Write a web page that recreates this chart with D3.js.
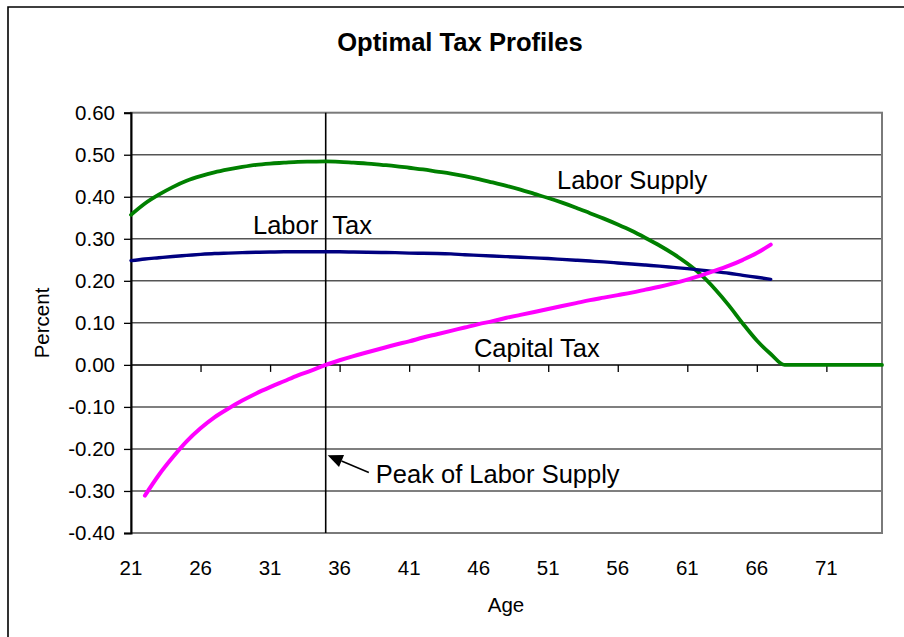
<!DOCTYPE html>
<html>
<head>
<meta charset="utf-8">
<script src="https://cdn.jsdelivr.net/npm/d3@7"></script>
<style>
  body { margin: 0; background: #fff; }
  svg { font-family: "Liberation Sans", Arial, sans-serif; }
</style>
</head>
<body>
<svg width="904" height="637"></svg>
<script>
// ages on the category axis
const xTicks = [21, 26, 31, 36, 41, 46, 51, 56, 61, 66, 71];
const yTicks = [0.6, 0.5, 0.4, 0.3, 0.2, 0.1, 0, -0.1, -0.2, -0.3, -0.4];

// labor supply, ages 21..75
const laborSupply = [
  0.357, 0.384, 0.405, 0.423, 0.438, 0.449, 0.458, 0.465, 0.471, 0.476,
  0.479, 0.481, 0.483, 0.4835, 0.484, 0.483, 0.481, 0.479, 0.476, 0.473,
  0.469, 0.465, 0.460, 0.455, 0.449, 0.442, 0.434, 0.426, 0.417, 0.407,
  0.397, 0.386, 0.374, 0.361, 0.348, 0.334, 0.319, 0.302, 0.284, 0.264,
  0.241, 0.214, 0.180, 0.141, 0.098, 0.058, 0.026, 0, 0, 0,
  0, 0, 0, 0, 0
];
// labor tax, ages 21..67
const laborTax = [
  0.248, 0.252, 0.255, 0.258, 0.2605, 0.263, 0.265, 0.266, 0.267, 0.268,
  0.2685, 0.269, 0.269, 0.269, 0.269, 0.269, 0.2685, 0.268, 0.2675, 0.267,
  0.266, 0.2655, 0.265, 0.264, 0.262, 0.2605, 0.259, 0.2575, 0.256, 0.2545,
  0.253, 0.251, 0.249, 0.247, 0.245, 0.2425, 0.240, 0.2375, 0.235, 0.232,
  0.229, 0.2255, 0.222, 0.218, 0.213, 0.2085, 0.2035
];
// capital tax, ages 22..67
const capitalTax = [
  -0.311, -0.262, -0.220, -0.182, -0.151, -0.125, -0.104, -0.085, -0.068,
  -0.053, -0.039, -0.025, -0.013, 0.000, 0.011, 0.021, 0.030, 0.039, 0.048,
  0.056, 0.065, 0.073, 0.081, 0.089, 0.097, 0.104, 0.112, 0.119, 0.126,
  0.133, 0.140, 0.147, 0.154, 0.160, 0.166, 0.172, 0.179, 0.186, 0.194,
  0.203, 0.213, 0.224, 0.236, 0.250, 0.266, 0.286
];
const peakAge = 35;

const svg = d3.select('svg');
const margin = { left: 131, right: 882, top: 112.7, bottom: 533 };

const x = d3.scaleLinear().domain([21, 75]).range([margin.left, margin.right]);
const y = d3.scaleLinear().domain([-0.4, 0.6]).range([margin.bottom, margin.top]);

// outer chart frame (only top/left visible)
svg.append('path')
  .attr('d', 'M8,660 L8,7 L920,7')
  .attr('fill', 'none')
  .attr('stroke', '#000')
  .attr('stroke-width', 1.6);

// title
svg.append('text')
  .attr('x', 460).attr('y', 51)
  .attr('text-anchor', 'middle')
  .attr('font-size', 25.6).attr('font-weight', 'bold')
  .text('Optimal Tax Profiles');

// gridlines
svg.append('g')
  .selectAll('line')
  .data(yTicks.filter(d => d !== 0 && d !== 0.6 && d !== -0.4))
  .enter()
  .append('line')
  .attr('x1', margin.left).attr('x2', margin.right)
  .attr('y1', d => y(d)).attr('y2', d => y(d))
  .attr('stroke', '#555')
  .attr('stroke-width', 1.5);

// plot border
svg.append('rect')
  .attr('x', margin.left).attr('y', margin.top)
  .attr('width', margin.right - margin.left)
  .attr('height', margin.bottom - margin.top)
  .attr('fill', 'none')
  .attr('stroke', '#7a7a7a')
  .attr('stroke-width', 2);

// y axis
const yAxis = svg.append('g')
  .attr('transform', `translate(${margin.left},0)`)
  .call(d3.axisLeft(y).tickValues(yTicks).tickSize(7).tickPadding(9)
    .tickFormat(d3.format('.2f')));
yAxis.select('.domain').attr('stroke', '#000').attr('stroke-width', 2);
yAxis.selectAll('.tick line').attr('stroke', '#000').attr('stroke-width', 1.3);
yAxis.selectAll('text')
  .attr('font-size', 20.5).attr('fill', '#000')
  .attr('font-family', '"Liberation Sans", Arial, sans-serif')
  .text(d => d3.format('.2f')(d).replace('−', '-'));

// x axis on the zero line
const xAxis = svg.append('g')
  .attr('transform', `translate(0,${y(0)})`)
  .call(d3.axisBottom(x).tickValues(xTicks.slice(1)).tickSize(7).tickFormat(''));
xAxis.select('.domain').attr('d', `M${margin.left},0H${margin.right}`)
  .attr('stroke', '#000').attr('stroke-width', 1.5);
xAxis.selectAll('.tick line').attr('stroke', '#000').attr('stroke-width', 1.3);

// x tick labels below the plot
svg.append('g')
  .selectAll('text')
  .data(xTicks)
  .enter()
  .append('text')
  .attr('x', d => x(d)).attr('y', 575)
  .attr('text-anchor', 'middle')
  .attr('font-size', 20.5)
  .text(d => d);

// axis titles
svg.append('text')
  .attr('x', 506).attr('y', 612)
  .attr('text-anchor', 'middle')
  .attr('font-size', 20.5)
  .text('Age');
svg.append('text')
  .attr('transform', 'translate(49,323) rotate(-90)')
  .attr('text-anchor', 'middle')
  .attr('font-size', 20.5)
  .text('Percent');

// peak line
svg.append('line')
  .attr('x1', x(peakAge)).attr('x2', x(peakAge))
  .attr('y1', margin.top).attr('y2', margin.bottom)
  .attr('stroke', '#000')
  .attr('stroke-width', 1.6);

// series
const line = d3.line()
  .curve(d3.curveMonotoneX)
  .x(d => x(d[0]))
  .y(d => y(d[1]));

function draw(values, startAge, color, width) {
  svg.append('path')
    .datum(values.map((v, i) => [startAge + i, v]))
    .attr('fill', 'none')
    .attr('stroke', color)
    .attr('stroke-width', width)
    .attr('stroke-linejoin', 'round')
    .attr('stroke-linecap', 'round')
    .attr('d', line);
}

draw(laborSupply, 21, '#008000', 3.8);
draw(laborTax, 21, '#000080', 3.4);
draw(capitalTax, 22, '#ff00ff', 4);

// annotations
const labels = [
  { text: 'Labor\u00a0\u00a0Tax', age: 29.77, v: 0.311 },
  { text: 'Labor Supply', age: 51.63, v: 0.4185 },
  { text: 'Capital Tax', age: 45.66, v: 0.0195 },
  { text: 'Peak of Labor Supply', age: 38.6, v: -0.281 }
];
svg.append('g')
  .selectAll('text')
  .data(labels)
  .enter()
  .append('text')
  .attr('x', d => x(d.age)).attr('y', d => y(d.v))
  .attr('font-size', 25.5)
  .text(d => d.text);

// arrow to peak line
const tail = [x(38.1), y(-0.256)];
const tip = [x(peakAge) + 2, y(-0.215)];
const ang = Math.atan2(tip[1] - tail[1], tip[0] - tail[0]);
const headLen = 15, headW = 6.5;
const base = [tip[0] - headLen * Math.cos(ang), tip[1] - headLen * Math.sin(ang)];
svg.append('line')
  .attr('x1', tail[0]).attr('y1', tail[1])
  .attr('x2', base[0]).attr('y2', base[1])
  .attr('stroke', '#000').attr('stroke-width', 1.5);
svg.append('path')
  .attr('d', `M${tip[0]},${tip[1]}` +
    `L${base[0] - headW * Math.sin(ang)},${base[1] + headW * Math.cos(ang)}` +
    `L${base[0] + headW * Math.sin(ang)},${base[1] - headW * Math.cos(ang)}Z`)
  .attr('fill', '#000');
</script>
</body>
</html>
